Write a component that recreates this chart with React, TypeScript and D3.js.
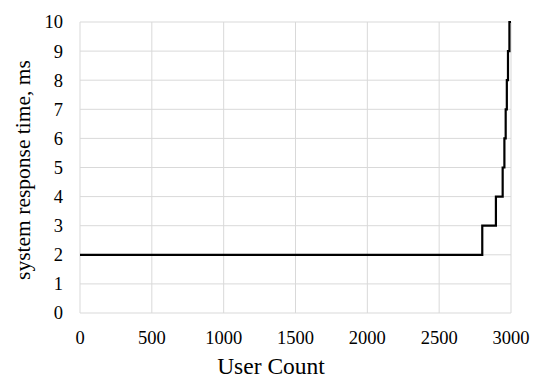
import React, { useEffect, useRef } from "react";
import * as d3 from "d3";

// step points: user count where response time jumps to the next level
const userCounts = [0, 2800, 2895, 2942, 2954, 2963, 2971, 2979, 2989, 3000];
const responseTimes = [2, 3, 4, 5, 6, 7, 8, 9, 10, 10];
const xTicks = [0, 500, 1000, 1500, 2000, 2500, 3000];
const yTicks = [0, 1, 2, 3, 4, 5, 6, 7, 8, 9, 10];

const W = 542;
const H = 388;
const m = { left: 80, right: 31, top: 22, bottom: 75 };

const App = () => {
  const ref = useRef<SVGSVGElement>(null);

  useEffect(() => {
    const svg = d3.select(ref.current);
    svg.selectAll("*").remove();

    const x = d3.scaleLinear().domain([0, 3000]).range([m.left, W - m.right]);
    const y = d3.scaleLinear().domain([0, 10]).range([H - m.bottom, m.top]);
    const font = "'Liberation Serif', 'Times New Roman', serif";

    // grid
    svg
      .append("g")
      .selectAll("line")
      .data(yTicks)
      .join("line")
      .attr("x1", x(0))
      .attr("x2", x(3000))
      .attr("y1", (d) => y(d))
      .attr("y2", (d) => y(d))
      .attr("stroke", "#d9d9d9")
      .attr("stroke-width", 1);
    svg
      .append("g")
      .selectAll("line")
      .data(xTicks)
      .join("line")
      .attr("x1", (d) => x(d))
      .attr("x2", (d) => x(d))
      .attr("y1", y(0))
      .attr("y2", y(10))
      .attr("stroke", "#d9d9d9")
      .attr("stroke-width", 1);

    // tick labels
    svg
      .append("g")
      .selectAll("text")
      .data(yTicks)
      .join("text")
      .attr("x", 63)
      .attr("y", (d) => y(d))
      .attr("dy", "0.35em")
      .attr("text-anchor", "end")
      .style("font-family", font)
      .style("font-size", "18.5px")
      .attr("fill", "#000")
      .text((d) => d);
    svg
      .append("g")
      .selectAll("text")
      .data(xTicks)
      .join("text")
      .attr("x", (d) => x(d))
      .attr("y", 344)
      .attr("text-anchor", "middle")
      .style("font-family", font)
      .style("font-size", "18.5px")
      .attr("fill", "#000")
      .text((d) => d);

    // axis titles
    svg
      .append("text")
      .attr("x", 271)
      .attr("y", 374)
      .attr("text-anchor", "middle")
      .style("font-family", font)
      .style("font-size", "23.5px")
      .text("User Count");
    svg
      .append("text")
      .attr("transform", "translate(30, 170) rotate(-90)")
      .attr("text-anchor", "middle")
      .style("font-family", font)
      .style("font-size", "21.5px")
      .text("system response time, ms");

    // step line
    const pts = userCounts.map((u, i) => [u, responseTimes[i]] as [number, number]);
    const line = d3
      .line<[number, number]>()
      .x((d) => x(d[0]))
      .y((d) => y(d[1]))
      .curve(d3.curveStepAfter);
    svg
      .append("path")
      .datum(pts)
      .attr("d", line)
      .attr("fill", "none")
      .attr("stroke", "#000")
      .attr("stroke-width", 2.2);
  }, []);

  return (
    <svg
      ref={ref}
      width={W}
      height={H}
      style={{ position: "absolute", left: 0, top: 0, background: "#fff" }}
    />
  );
};

export default App;
